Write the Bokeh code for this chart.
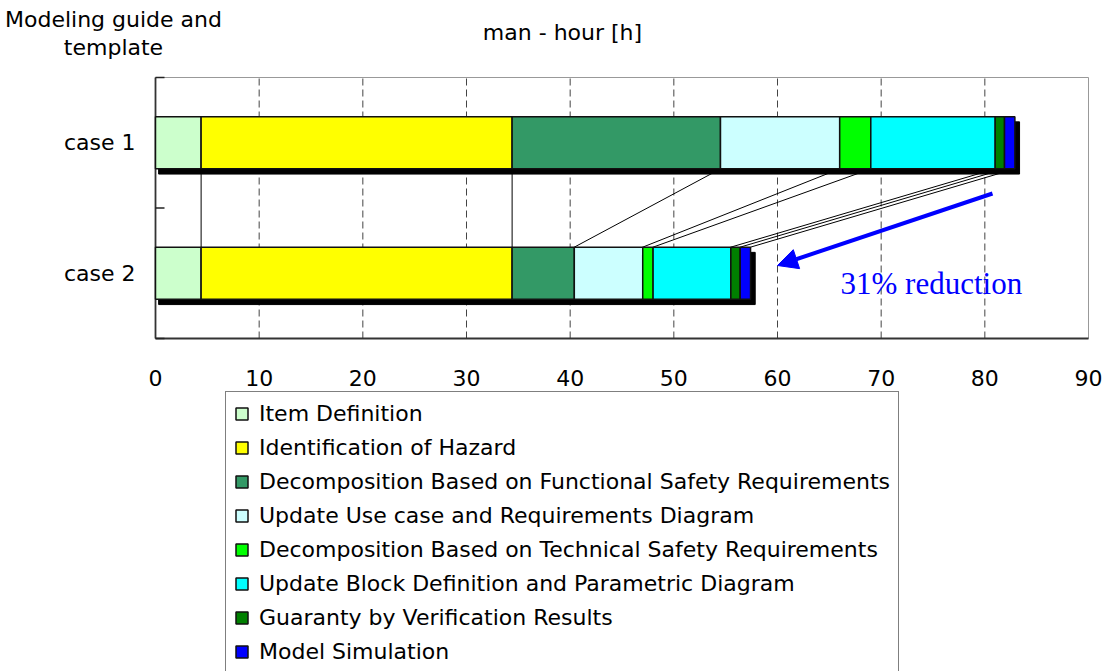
from bokeh.plotting import figure
from bokeh.models import Range1d, Legend, LegendItem, Label, Arrow, NormalHead
from bokeh.core.properties import value
from bokeh.embed import file_html
from bokeh.resources import INLINE

# ---- data ----
cases = ["case 1", "case 2"]
case_pos = [1.5, 0.5]
case_bounds = [0, 1, 2]
phases = [
    "Item Definition",
    "Identification of Hazard",
    "Decomposition Based on Functional Safety Requirements",
    "Update Use case and Requirements Diagram",
    "Decomposition Based on Technical Safety Requirements",
    "Update Block Definition and Parametric Diagram",
    "Guaranty by Verification Results",
    "Model Simulation",
]
colors = ["#CCFFCC", "#FFFF00", "#339966", "#CCFFFF", "#00FF00", "#00FFFF", "#008000", "#0000FF"]
case1_hours = [4.4, 30.0, 20.1, 11.5, 3.0, 12.0, 0.9, 1.0]
case2_hours = [4.4, 30.0, 6.0, 6.6, 1.0, 7.5, 0.9, 1.0]
x_ticks = [0, 10, 20, 30, 40, 50, 60, 70, 80, 90]
title_left = ["Modeling guide and", "template"]
title_top = "man - hour [h]"
note = "31% reduction"

FONT = "DejaVu Sans"
FS = "22px"
W, H = 1107, 671

# plot-box placement on the canvas (pixels)
BOX_L, BOX_R, BOX_T, BOX_B = 155, 1088, 77, 338
XMAX, YMAX = 90, 2
kx = (BOX_R - BOX_L) / XMAX
ky = (BOX_B - BOX_T) / YMAX


def px2x(px):
    return (px - BOX_L) / kx


def py2y(py):
    return YMAX - (py - BOX_T) / ky


def cumulate(vals):
    lefts, rights, acc = [], [], 0.0
    for v in vals:
        lefts.append(acc)
        acc += v
        rights.append(acc)
    return lefts, rights


c1_left, c1_right = cumulate(case1_hours)
c2_left, c2_right = cumulate(case2_hours)

p = figure(width=W, height=H, x_range=Range1d(px2x(0), px2x(W)), y_range=Range1d(py2y(H), py2y(0)),
           x_axis_type=None, y_axis_type=None, output_backend="svg", toolbar_location=None,
           min_border=0)
p.outline_line_color = None
p.grid.visible = False

# plot box
p.quad(left=[0], right=[XMAX], bottom=[0], top=[YMAX], fill_color=None, line_color="#999999", line_width=1)

# vertical dashed grid
inner = x_ticks[1:-1]
p.segment(x0=inner, y0=[0] * len(inner), x1=inner, y1=[YMAX] * len(inner),
          line_color="#444444", line_dash="7 4", line_width=1)

# axis lines (left and bottom)
p.segment(x0=[0, 0], y0=[0, 0], x1=[0, XMAX], y1=[YMAX, 0], line_color="#333333", line_width=1.8)
# inward category boundary ticks
p.segment(x0=[0] * 3, y0=case_bounds, x1=[9 / kx] * 3, y1=case_bounds, line_color="#222222", line_width=1.5)

# x tick labels
p.text(x=x_ticks, y=[0] * len(x_ticks), text=[str(t) for t in x_ticks], y_offset=39,
       text_align="center", text_baseline="middle", text_font=value(FONT), text_font_size=FS,
       text_color="black")
# category labels
p.text(x=[0, 0], y=case_pos, text=cases, x_offset=-20, text_align="right", text_baseline="middle",
       text_font=value(FONT), text_font_size=FS, text_color="black")

# connecting lines between the end of each phase
p.segment(x0=c1_right, y0=[1.3] * len(c1_right), x1=c2_right, y1=[0.7] * len(c2_right),
          line_color="black", line_width=1)

# bar shadows
p.hbar(y=[y - 0.04 for y in case_pos], left=[0.3, 0.3],
       right=[c1_right[-1] + 0.45, c2_right[-1] + 0.45],
       height=0.4, fill_color="black", line_color="black")

# stacked bars
renderers = []
for i, ph in enumerate(phases):
    r = p.hbar(y=case_pos, left=[c1_left[i], c2_left[i]], right=[c1_right[i], c2_right[i]],
               height=0.4, fill_color=colors[i], line_color="#111111", line_width=1.5)
    renderers.append(r)

legend = Legend(items=[LegendItem(label=ph, renderers=[r]) for ph, r in zip(phases, renderers)],
                orientation="vertical")
legend.label_text_font = FONT
legend.label_text_font_size = FS
legend.label_text_color = "black"
legend.glyph_width = 15
legend.glyph_height = 15
legend.label_standoff = 10
legend.label_height = 26
legend.spacing = 8
legend.padding = 8
legend.margin = 0
legend.border_line_color = "black"
legend.border_line_width = 1
legend.background_fill_color = "white"
legend.background_fill_alpha = 1
# top-left corner at canvas pixel (225, 393); legend height = 2*8 + 8*26 + 7*8 = 280
legend.location = (225, H - (393 + 280))
p.add_layout(legend)

# annotations
p.add_layout(Arrow(end=NormalHead(size=20, fill_color="blue", line_color="blue"),
                   x_start=px2x(992), y_start=py2y(193), x_end=px2x(777), y_end=py2y(265),
                   line_color="blue", line_width=4))
p.add_layout(Label(x=px2x(840), y=py2y(283), text=note, text_color="blue",
                   text_font="Liberation Serif", text_font_size="31px", text_baseline="middle"))
p.add_layout(Label(x=px2x(113), y=py2y(19), text=title_left[0], text_align="center",
                   text_baseline="middle", text_font=FONT, text_font_size=FS, text_color="black"))
p.add_layout(Label(x=px2x(113), y=py2y(47), text=title_left[1], text_align="center",
                   text_baseline="middle", text_font=FONT, text_font_size=FS, text_color="black"))
p.add_layout(Label(x=px2x(562), y=py2y(32), text=title_top, text_align="center",
                   text_baseline="middle", text_font=FONT, text_font_size=FS, text_color="black"))

open("out.html", "w").write(file_html(p, INLINE))
